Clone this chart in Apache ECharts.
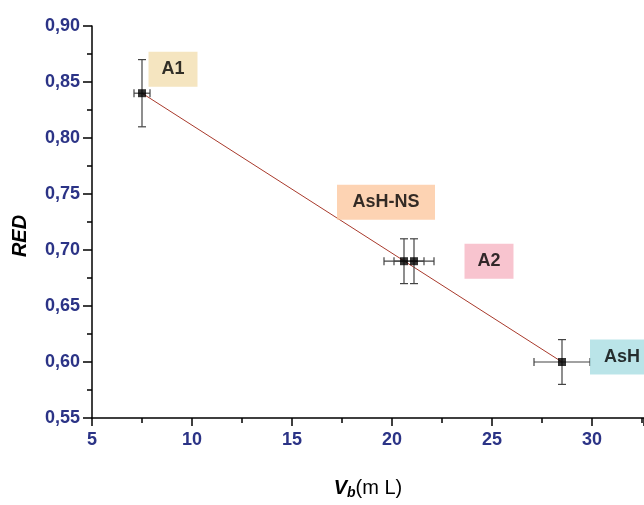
<!DOCTYPE html>
<html>
<head>
<meta charset="utf-8">
<script src="https://cdn.jsdelivr.net/npm/echarts@6/dist/echarts.min.js"></script>
<style>
html, body { margin: 0; padding: 0; background: #fff; }
#chart { width: 644px; height: 505px; }
</style>
</head>
<body>
<div id="chart"></div>
<script>
// data
var sampleNames = ['A1', 'AsH-NS', 'A2', 'AsH'];
var vbValues = [7.5, 20.6, 21.1, 28.5];
var redValues = [0.84, 0.69, 0.69, 0.60];
var vbErrors = [0.4, 1.0, 1.0, 1.4];
var redErrors = [0.03, 0.02, 0.02, 0.02];
var fitVb = [7.5, 28.5];
var fitRed = [0.84, 0.60];

var navy = '#2b3386';

// label look per sample
var labelStyles = {
    'A1':     { bg: '#f3dfb0', w: 49, off: [31, -24] },
    'AsH-NS': { bg: '#fcc8a0', w: 98, off: [-18, -59] },
    'A2':     { bg: '#f6b5c3', w: 49, off: [75, 0] },
    'AsH':    { bg: '#a9dde2', w: 64, off: [60, -5] }
};

var pointData = [];
var errData = [];
for (var i = 0; i < sampleNames.length; i++) {
    var st = labelStyles[sampleNames[i]];
    pointData.push({
        name: sampleNames[i],
        value: [vbValues[i], redValues[i]],
        label: {
            show: true,
            position: 'inside',
            offset: st.off,
            formatter: '{b}',
            backgroundColor: st.bg,
            width: st.w,
            height: 35,
            lineHeight: 35,
            align: 'center',
            color: '#000',
            fontSize: 18,
            fontWeight: 'bold',
            fontFamily: 'Liberation Sans, Arial, sans-serif'
        }
    });
    errData.push([vbValues[i], redValues[i], vbErrors[i], redErrors[i]]);
}
var fitData = [];
for (var j = 0; j < fitVb.length; j++) fitData.push([fitVb[j], fitRed[j]]);

var chart = echarts.init(document.getElementById('chart'));

var option = {
    animation: false,
    grid: { left: 92, right: 0, top: 26, bottom: 69 },
    xAxis: {
        type: 'value',
        min: 5,
        max: 32.6,
        interval: 5,
        name: '{v|V}{s|b}{n|(m L)}',
        nameLocation: 'middle',
        nameGap: 58,
        nameTextStyle: {
            rich: {
                v: { fontSize: 20, fontWeight: 'bold', fontStyle: 'italic', color: '#000', fontFamily: 'Liberation Sans, Arial' },
                s: { fontSize: 14, fontWeight: 'bold', fontStyle: 'italic', color: '#000', verticalAlign: 'bottom', padding: [10, 0, 0, 0], fontFamily: 'Liberation Sans, Arial' },
                n: { fontSize: 20, color: '#000', fontFamily: 'Liberation Sans, Arial' }
            }
        },
        axisLine: { onZero: false, lineStyle: { color: '#000', width: 1.5 } },
        axisTick: { length: 8, lineStyle: { color: '#000', width: 1.5 } },
        minorTick: { show: true, splitNumber: 2, length: 5, lineStyle: { color: '#000', width: 1.5 } },
        splitLine: { show: false },
        axisLabel: {
            margin: 13,
            color: navy,
            fontSize: 18,
            fontWeight: 'bold',
            fontFamily: 'Liberation Sans, Arial',
            showMaxLabel: false,
            formatter: function (v) { return v % 5 === 0 ? String(v) : ''; }
        }
    },
    yAxis: {
        type: 'value',
        min: 0.55,
        max: 0.90,
        interval: 0.05,
        name: 'RED',
        nameLocation: 'middle',
        nameGap: 62,
        nameTextStyle: {
            fontSize: 20, fontWeight: 'bold', fontStyle: 'italic', color: '#000',
            fontFamily: 'Liberation Sans, Arial',
            padding: [0, 28, 0, 0]
        },
        axisLine: { onZero: false, lineStyle: { color: '#000', width: 1.5 } },
        axisTick: { length: 9, lineStyle: { color: '#000', width: 1.5 } },
        minorTick: { show: true, splitNumber: 2, length: 5, lineStyle: { color: '#000', width: 1.5 } },
        splitLine: { show: false },
        axisLabel: {
            margin: 12,
            color: navy,
            fontSize: 18,
            fontWeight: 'bold',
            fontFamily: 'Liberation Sans, Arial',
            formatter: function (v) { return v.toFixed(2).replace('.', ','); }
        }
    },
    series: [
        {
            type: 'line',
            data: fitData,
            symbol: 'none',
            lineStyle: { color: '#a8392b', width: 1 },
            z: 2
        },
        {
            type: 'custom',
            data: errData,
            z: 3,
            renderItem: function (params, api) {
                var x = api.value(0), y = api.value(1);
                var ex = api.value(2), ey = api.value(3);
                var top = api.coord([x, y + ey]);
                var bot = api.coord([x, y - ey]);
                var lft = api.coord([x - ex, y]);
                var rgt = api.coord([x + ex, y]);
                var c = 4;
                var st = { stroke: '#444', lineWidth: 1.2 };
                function ln(x1, y1, x2, y2) {
                    return { type: 'line', shape: { x1: x1, y1: y1, x2: x2, y2: y2 }, style: st };
                }
                return {
                    type: 'group',
                    children: [
                        ln(top[0], top[1], bot[0], bot[1]),
                        ln(top[0] - c, top[1], top[0] + c, top[1]),
                        ln(bot[0] - c, bot[1], bot[0] + c, bot[1]),
                        ln(lft[0], lft[1], rgt[0], rgt[1]),
                        ln(lft[0], lft[1] - c, lft[0], lft[1] + c),
                        ln(rgt[0], rgt[1] - c, rgt[0], rgt[1] + c)
                    ]
                };
            }
        },
        {
            type: 'scatter',
            data: pointData,
            symbol: 'rect',
            symbolSize: 8,
            itemStyle: { color: '#000' },
            z: 5
        }
    ]
};
chart.setOption(option);
</script>
</body>
</html>
